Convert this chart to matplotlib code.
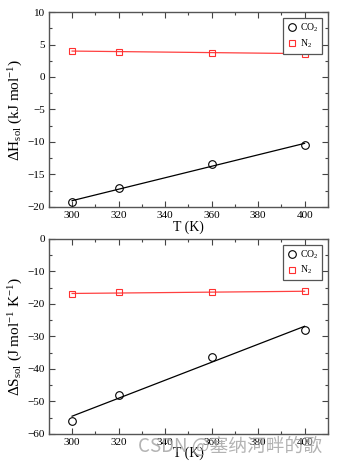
import numpy as np
import matplotlib.pyplot as plt
from matplotlib.ticker import MultipleLocator

plt.rcParams['font.family'] = ['Liberation Serif', 'DejaVu Serif']
plt.rcParams['mathtext.fontset'] = 'custom'
plt.rcParams['mathtext.rm'] = 'Liberation Serif'
plt.rcParams['mathtext.it'] = 'Liberation Serif'

temps = [300, 320, 360, 400]

# enthalpy of solution, kJ/mol
dh_co2 = [-19.3, -17.1, -13.4, -10.45]
dh_n2 = [4.0, 3.9, 3.75, 3.6]

# entropy of solution, J/mol/K
ds_co2 = [-56.0, -48.0, -36.5, -28.0]
ds_n2 = [-16.9, -16.5, -16.5, -16.1]

fig = plt.figure(figsize=(3.44, 4.62), dpi=100)
ax1 = fig.add_axes([0.142, 0.552, 0.811, 0.422])
ax2 = fig.add_axes([0.142, 0.061, 0.811, 0.422])


def draw_panel(ax, co2, n2, ylim, major, minor, ylabel):
    t = np.array(temps)
    for vals, col in ((co2, 'black'), (n2, '#ff4040')):
        k, b = np.polyfit(t, vals, 1)
        ax.plot(t, k * t + b, color=col, lw=0.9)
    ax.plot(t, co2, 'o', mfc='none', mec='black', ms=5.5, mew=0.8, ls='none',
            label='CO$_2$')
    ax.plot(t, n2, 's', mfc='none', mec='#ff3030', ms=5, mew=0.8, ls='none',
            label='N$_2$')
    ax.set_xlim(290, 410)
    ax.set_ylim(*ylim)
    ax.xaxis.set_major_locator(MultipleLocator(20))
    ax.xaxis.set_minor_locator(MultipleLocator(10))
    ax.yaxis.set_major_locator(MultipleLocator(major))
    ax.yaxis.set_minor_locator(MultipleLocator(minor))
    ax.tick_params(which='both', direction='in', top=True, right=True,
                   labelsize=8, color='#444444', width=0.8)
    ax.tick_params(which='major', length=4, pad=3)
    ax.tick_params(which='minor', length=2)
    for s in ax.spines.values():
        s.set_color('#555555')
        s.set_linewidth(1.0)
    ax.set_xlabel('T (K)', fontsize=10, labelpad=0)
    ax.set_ylabel(ylabel, fontsize=11, labelpad=2)
    leg = ax.legend(loc='upper right', fontsize=7, handletextpad=0.3,
                    handlelength=1.0, borderpad=0.4, labelspacing=0.3,
                    fancybox=False, framealpha=1, edgecolor='#555555',
                    borderaxespad=0.6)
    leg.get_frame().set_linewidth(0.9)


draw_panel(ax1, dh_co2, dh_n2, (-20, 10), 5, 2.5,
           r'$\Delta$H$_{\rm sol}$ (kJ mol$^{-1}$)')
draw_panel(ax2, ds_co2, ds_n2, (-60, 0), 10, 5,
           r'$\Delta$S$_{\rm sol}$ (J mol$^{-1}$ K$^{-1}$)')

fig.text(0.40, 0.022, 'CSDN @塞纳河畔的歌', fontsize=13.5, color='#a0a0a0',
         alpha=0.8, family=['Noto Sans CJK SC', 'DejaVu Sans'])

fig.savefig('out.png', dpi=100)
